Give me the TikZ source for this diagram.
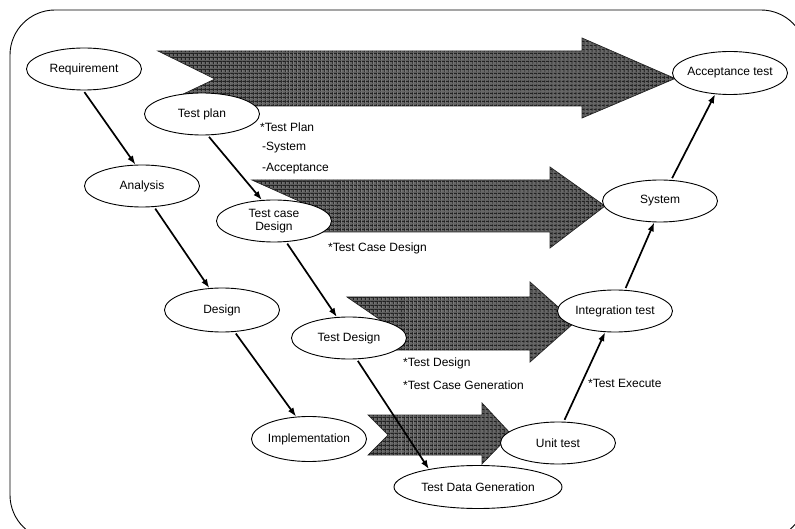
\documentclass[tikz,border=0pt]{standalone}
\usepackage{fontspec}
\setmainfont{Liberation Sans}
\usetikzlibrary{shapes.geometric,arrows.meta,patterns.meta}

\tikzset{every picture/.style={line width=0.75pt}}
\tikzset{
  stage/.style={ellipse, draw, fill=white, line width=0.9pt, minimum width=115pt, minimum height=42pt,
    inner xsep=-12pt, inner ysep=0pt, align=center, font=\fontsize{12}{13.5}\selectfont},
  note/.style={anchor=west, inner sep=0.75pt, font=\fontsize{12}{14}\selectfont},
  flow/.style={-{Latex[length=9pt,width=6.5pt]}, line width=1.7pt, shorten <=2pt},
  bigarrow/.style={fill=black!60, draw=black!85, line width=0.7pt,
    postaction={pattern={Lines[angle=0,distance=4pt,line width=1.5pt]}, pattern color=black!88},
    postaction={pattern={Lines[angle=90,distance=4pt,line width=1.5pt]}, pattern color=black!88}}
}

\begin{document}
\begin{tikzpicture}[x=1pt,y=1pt,yscale=-1]
\useasboundingbox (0,0) rectangle (795,529);
\clip (0,0) rectangle (795,529);

%Rounded frame
\draw [line width=0.9pt, rounded corners=45pt] (10,10) rectangle (806,540) ;

%Block arrows
\path [bigarrow] (158,51) -- (582,51) -- (582,38) -- (675,78.5) -- (582,118) -- (582,106) -- (158,106) -- (215,79) -- cycle ;
\path [bigarrow] (252,180) -- (550,180) -- (550,167) -- (605,206) -- (550,248) -- (550,232) -- (252,232) -- (310,206) -- cycle ;
\path [bigarrow] (347,297) -- (530,297) -- (530,282) -- (575,322) -- (530,362) -- (530,350) -- (347,350) -- (385,323) -- cycle ;
\path [bigarrow] (368,415) -- (482,415) -- (482,403) -- (511,434) -- (482,464) -- (482,455) -- (368,455) -- (388,435) -- cycle ;

% Stages
\node [stage] (req) at (84,69) {Requirement};
\node [stage] (ana) at (142,186) {Analysis};
\node [stage, minimum height=44pt] (des) at (222,310) {Design};
\node [stage, minimum height=45pt] (imp) at (309,439) {Implementation};
\node [stage] (tp) at (202,114) {Test plan};
\node [stage] (tcd) at (274,221) {Test case\\Design};
\node [stage] (td) at (349,338) {Test Design};
\node [stage, minimum width=168pt, minimum height=43pt] (tdg) at (478,487) {Test Data Generation};
\node [stage] (ut) at (558,443) {Unit test};
\node [stage] (it) at (615,311) {Integration test};
\node [stage] (sys) at (660,201) {System};
\node [stage, minimum height=43pt] (acc) at (730,73) {Acceptance test};

%Straight Lines
\draw [flow] (req.268) -- (ana.107) ;
\draw [flow] (ana.300) -- (des.120) ;
\draw [flow] (des.300) -- (imp.120) ;
\draw [flow] (tp.285) -- (tcd.120) ;
\draw [flow] (tcd.300) -- (td.120) ;
\draw [flow] (td.290) -- (tdg.160) ;
\draw [flow] (ut.75) -- (it.245) ;
\draw [flow] (it.65) -- (sys.255) ;
\draw [flow] (sys.62) -- (acc.235) ;

% Text Node
\node [note] (plannote) at (259,127) {*Test Plan};
% Text Node
\node [note] (sysnote) at (261,148) {-System};
% Text Node
\node [note] (accnote) at (261,169) {-Acceptance};
% Text Node
\node [note] (casenote) at (327,248) {*Test Case Design};
% Text Node
\node [note] (designnote) at (402,363) {*Test Design};
% Text Node
\node [note] (gennote) at (402,385) {*Test Case Generation};
% Text Node
\node [note] (execnote) at (587,383) {*Test Execute};
\end{tikzpicture}
\end{document}
